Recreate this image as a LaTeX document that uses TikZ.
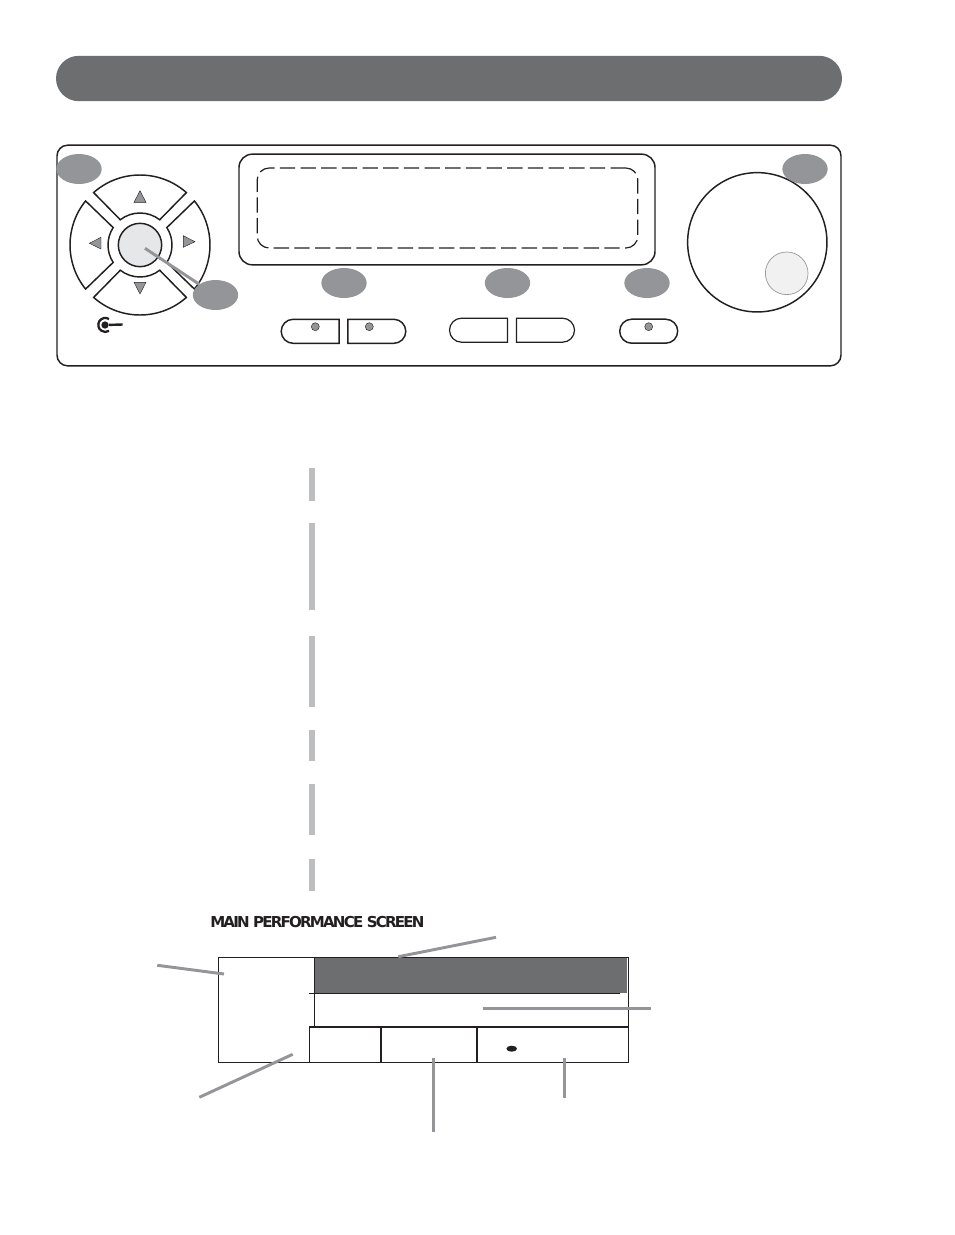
\documentclass[tikz,border=0pt]{standalone}
\usepackage{fontspec}
\usetikzlibrary{shapes.geometric,shapes.misc}
\newfontfamily\titlefont[LetterSpace=-12]{DejaVu Sans Bold}
\definecolor{headgray}{HTML}{6D6E70}
\definecolor{calloutgray}{HTML}{939598}
\definecolor{bargray}{HTML}{BCBEC0}
\definecolor{hubgray}{HTML}{E6E7E8}
\definecolor{dialgray}{HTML}{F1F1F2}
\definecolor{inkblack}{HTML}{231F20}
\tikzset{
  panelline/.style={draw=inkblack, line width=1.1pt},
  callout/.style={shape=ellipse, fill=calloutgray, minimum width=34pt, minimum height=22.5pt, inner sep=0pt},
  softkey/.style={shape=rounded rectangle, panelline, minimum width=43.5pt, minimum height=18pt, inner sep=0pt},
  keyled/.style={shape=circle, draw=inkblack, line width=0.3pt, fill=calloutgray, minimum size=6pt, inner sep=0pt},
  sidebar/.style={fill=bargray, draw=none},
  leader/.style={draw=calloutgray, line width=2.2pt},
  arrowmark/.style={draw=inkblack, line width=0.3pt, fill=calloutgray},
  screenline/.style={draw=inkblack, line width=1.1pt},
}
\begin{document}
\begin{tikzpicture}[x=0.75pt, y=0.75pt]
\useasboundingbox (0,0) rectangle (954,-1235);
\node[shape=rounded rectangle, fill=headgray, minimum width=589.5pt, minimum height=34pt, inner sep=0pt] (header) at (449,-78.5) {};
\node[shape=rectangle, panelline, rounded corners=8pt, minimum width=588pt, minimum height=165.5pt, inner sep=0pt] (panel) at (449,-255.5) {};
\node[shape=rectangle, panelline, rounded corners=10pt, minimum width=312pt, minimum height=83pt, inner sep=0pt] (display) at (447,-209.5) {};
\node[shape=rectangle, draw=inkblack, line width=0.9pt, dash pattern=on 11.5pt off 4pt, rounded corners=9pt, minimum width=285.5pt, minimum height=60pt, inner sep=0pt] (lcd) at (447.5,-208) {};
\node[shape=circle, panelline, minimum size=104.5pt, inner sep=0pt] (knob) at (757.3,-242.3) {};
\node[shape=circle, draw=calloutgray, line width=0.5pt, fill=dialgray, minimum size=32pt, inner sep=0pt] (dial) at (786.7,-273.3) {};
\begin{scope}[shift={(140,-245)}]
\foreach \a/\o/\i in {90/41.5/38, 180/39/33, 270/41.5/38, 0/39/33}
  \draw[panelline] (\a+\o:70) arc[start angle=\a+\o, end angle=\a-\o, radius=70] -- (\a-\i:32) arc[start angle=\a-\i, end angle=\a+\i, radius=32] -- cycle;
\end{scope}
\node[shape=circle, panelline, fill=hubgray, minimum size=32.5pt, inner sep=0pt] (hub) at (140,-245) {};
\draw[arrowmark] (140,-190.7) -- (134,-202.3) -- (146,-202.3) -- cycle;
\draw[arrowmark] (89.3,-243.3) -- (101,-237.3) -- (101,-249) -- cycle;
\draw[arrowmark] (195,-241.7) -- (183.3,-235.7) -- (183.3,-247.3) -- cycle;
\draw[arrowmark] (140,-294) -- (134,-282.3) -- (146,-282.3) -- cycle;
\node[shape=circle, fill=inkblack, minimum size=5.5pt, inner sep=0pt] (jack) at (105,-325) {};
\draw[draw=inkblack, line width=1.7pt] (109,-319) arc[start angle=58, end angle=302, radius=7];
\coordinate (jackend) at (122.7,-324.5);
\draw[draw=inkblack, line width=1.8pt] (jack) -- (jackend);
\node[softkey, rounded rectangle right arc=none] (keya) at (310.2,-331.3) {};
\node[softkey, rounded rectangle left arc=none] (keyb) at (376.8,-331.3) {};
\node[softkey, line width=0.9pt, rounded rectangle right arc=none] (keyc) at (478.5,-330.2) {};
\node[softkey, line width=0.9pt, rounded rectangle left arc=none] (keyd) at (545.5,-330.2) {};
\node[softkey] (keye) at (648.7,-331.2) {};
\node[keyled] (leda) at (315.3,-326.7) {};
\node[keyled] (ledb) at (369.3,-326.7) {};
\node[keyled] (lede) at (648.7,-326.7) {};
\coordinate (hubtip) at (145,-248.3);
\node[callout] (numa) at (79,-169) {};
\node[callout] (numb) at (805,-169) {};
\node[callout] (numc) at (215.5,-295) {};
\node[callout] (numd) at (344,-283) {};
\node[callout] (nume) at (507.5,-283) {};
\node[callout] (numf) at (647,-283) {};
\path [-, leader] (hubtip) edge (numc);
\fill[sidebar] (309,-468) rectangle (315,-501);
\fill[sidebar] (309,-523) rectangle (315,-610);
\fill[sidebar] (309,-636) rectangle (315,-707);
\fill[sidebar] (309,-730) rectangle (315,-761);
\fill[sidebar] (309,-784) rectangle (315,-835);
\fill[sidebar] (309,-859) rectangle (315,-891);
\node[anchor=west, inner sep=0pt, font=\titlefont\fontsize{11.3pt}{13pt}\selectfont, text=inkblack] (title) at (210,-922.5) {MAIN PERFORMANCE SCREEN};
\fill[headgray] (314.3,-957.3) rectangle (627.3,-993.3);
\draw[screenline] (218.3,-957.3) rectangle (628.3,-1062.3);
\draw[screenline, line width=0.8pt] (309,-993.3) -- (620,-993.3);
\draw[screenline, line width=0.8pt] (314.3,-957.3) -- (314.3,-1026.7);
\draw[screenline, line width=1.4pt] (309,-1026.7) -- (628.3,-1026.7);
\draw[screenline, line width=0.8pt] (309.3,-1026.7) -- (309.3,-1062.3);
\draw[screenline, line width=1.4pt] (380.7,-1026.7) -- (380.7,-1062.3);
\draw[screenline, line width=1.4pt] (477,-1026.7) -- (477,-1062.3);
\node[shape=ellipse, fill=inkblack, minimum width=8pt, minimum height=4.5pt, inner sep=0pt] (tempo) at (511.7,-1048.7) {};
\coordinate (namea) at (496,-937.3);
\coordinate (nameb) at (398.3,-956.7);
\coordinate (bankaa) at (157.3,-965.3);
\coordinate (bankab) at (224,-974);
\coordinate (linea) at (483.3,-1008.3);
\coordinate (lineb) at (650.7,-1008.3);
\coordinate (modea) at (199.3,-1097.3);
\coordinate (modeb) at (292.7,-1054.3);
\coordinate (keysa) at (433.3,-1058.3);
\coordinate (keysb) at (433.3,-1131.7);
\coordinate (beata) at (564.3,-1058.3);
\coordinate (beatb) at (564.3,-1098.3);
\path [-, leader] (namea) edge (nameb);
\path [-, leader] (bankaa) edge (bankab);
\path [-, leader] (linea) edge (lineb);
\path [-, leader] (modea) edge (modeb);
\path [-, leader] (keysa) edge (keysb);
\path [-, leader] (beata) edge (beatb);
\end{tikzpicture}
\end{document}
